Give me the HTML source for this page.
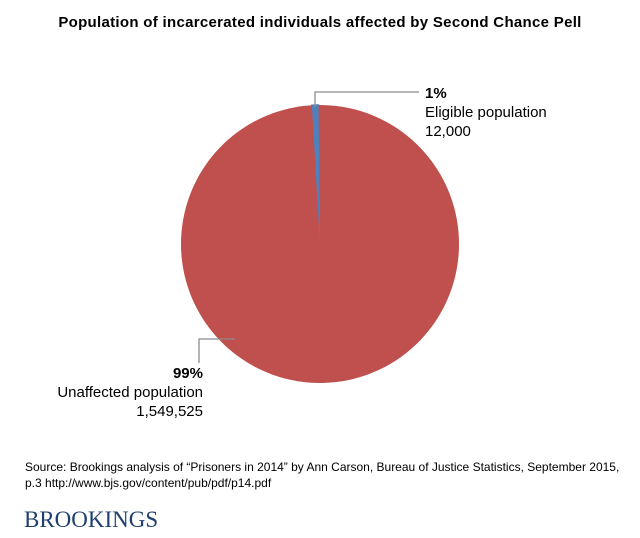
<!DOCTYPE html>
<html><head><meta charset="utf-8"><style>
body{margin:0;width:640px;height:533px;background:#fff;overflow:hidden;font-family:"Liberation Sans",sans-serif}
</style></head><body>
<svg width="640" height="533" id="svg">
<text x="320" y="27" text-anchor="middle" font-weight="bold" font-size="15" letter-spacing="0.3" fill="#000">Population of incarcerated individuals affected by Second Chance Pell</text>
<g id="pie"></g>
<polyline points="315,107 315,92 419,92" fill="none" stroke="#8c8c8c" stroke-width="1.3"/>
<text x="425" y="98" font-size="15" font-weight="bold">1%</text>
<text x="425" y="117" font-size="15">Eligible population</text>
<text x="425" y="136" font-size="15">12,000</text>
<polyline points="235,339 199,339 199,363" fill="none" stroke="#8c8c8c" stroke-width="1.3"/>
<text x="203" y="378" text-anchor="end" font-size="15" font-weight="bold">99%</text>
<text x="203" y="397" text-anchor="end" font-size="15">Unaffected population</text>
<text x="203" y="416" text-anchor="end" font-size="15">1,549,525</text>
<text x="25" y="471" font-size="12">Source: Brookings analysis of “Prisoners in 2014” by Ann Carson, Bureau of Justice Statistics, September 2015,</text>
<text x="25" y="487" font-size="12">p.3  http://www.bjs.gov/content/pub/pdf/p14.pdf</text>
<text x="24" y="527" font-size="23" font-family="Liberation Serif,serif" fill="#1f3f6e">BROOKINGS</text>
</svg>
<script>
const categories=["Eligible population","Unaffected population"];
const values=[12000,1549525];
const colors=["#4f81bd","#c0504d"];
const cx=320,cy=244,r=139;
const g=document.getElementById('pie');
const total=values.reduce((a,b)=>a+b,0);
let end=-0.6*Math.PI/180;
function pt(a){return [cx+r*Math.sin(a),cy-r*Math.cos(a)];}
values.forEach((v,i)=>{
  const start=end-v/total*2*Math.PI;
  const p1=pt(start),p2=pt(end);
  const large=(end-start)>Math.PI?1:0;
  const path=document.createElementNS("http://www.w3.org/2000/svg","path");
  path.setAttribute("d",`M${cx},${cy}L${p1[0]},${p1[1]}A${r},${r} 0 ${large} 1 ${p2[0]},${p2[1]}Z`);
  path.setAttribute("fill",colors[i]);
  if(i===0){path.setAttribute("stroke",colors[i]);path.setAttribute("stroke-width","1.5");}
  
  
  g.appendChild(path);
  end=start;
});
</script>
</body></html>
